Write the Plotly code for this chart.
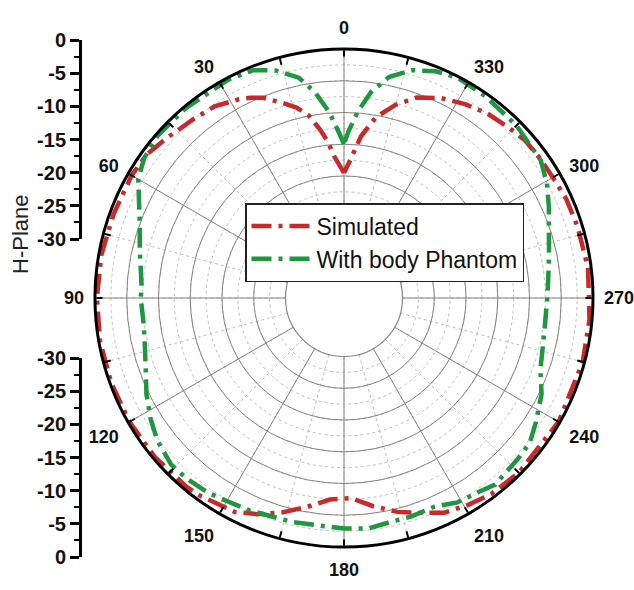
import plotly.graph_objects as go

# ---------------- data ----------------
sim_theta = [0, 4, 6, 8, 11, 14, 17, 22, 25, 28, 34, 40, 45, 48, 54, 60, 70, 80, 90, 100, 110,
             120, 130, 140, 144, 153, 158, 164, 170, 176, 182, 188, 194, 200, 205, 211, 217,
             225, 240, 255, 265, 277, 287, 294, 299, 305, 311, 316, 322, 328, 334, 340, 345,
             350, 354, 357, 360]
sim_r = [-19.5, -16.8, -14.4, -12.5, -9.9, -8.3, -7.2, -5.2, -4.4, -3.8, -2.8, -2.4, -2.0, -1.6,
         -0.8, -0.6, -0.6, -0.4, -0.3, -0.2, -0.2, -0.2, -0.3, -0.5, -0.7, -1.4, -2.5, -4.1,
         -5.8, -7.4, -7.7, -6.1, -4.5, -3.2, -1.9, -1.2, -0.6, -0.3, -0.2, -0.3, -0.4, -0.5,
         -0.75, -0.9, -1.2, -1.3, -1.4, -1.9, -2.4, -3.2, -4.2, -5.6, -7.7, -10.3, -13.6,
         -17.1, -19.5]

ph_theta = [0, 1.6, 4.5, 8, 11.6, 16.7, 21.7, 28, 40, 49, 55, 60, 65, 70, 77, 83, 87, 90, 97.5,
            104, 111, 116, 122, 127.5, 134, 139, 145, 150, 156, 167, 180, 186, 192, 197, 203.5,
            209, 215, 219, 227, 232, 237, 244, 250, 260, 270, 275.5, 282, 289, 294, 299.5, 305,
            315, 325, 332.6, 338, 343.5, 348.5, 352.5, 355.8, 358.5, 360]
ph_r = [-15, -13.3, -9.9, -6.5, -3.8, -1.8, -0.6, -0.3, -0.3, -0.3, -0.8, -1.8, -3.6, -5.0, -6.2,
        -7.0, -7.3, -7.2, -7.4, -6.9, -5.8, -4.6, -3.3, -2.2, -1.4, -1.5, -1.8, -2.3, -2.6,
        -3.0, -2.9, -2.7, -3.2, -3.2, -3.4, -2.4, -2.0, -1.4, -1.9, -2.1, -3.2, -4.6, -6.3,
        -7.2, -7.2, -6.9, -6.2, -5.1, -3.9, -2.5, -1.4, -0.8, -0.4, -0.2, -0.7, -1.8, -3.7,
        -6.5, -9.8, -13.0, -15]

series_names = ["Simulated", "With body Phantom"]

angle_ticks = [0, 30, 60, 90, 120, 150, 180, 210, 240, 270, 300, 330]
angle_labels = [str(a) for a in angle_ticks]
angle_minor = list(range(0, 360, 15))
radial_major = [-25, -20, -15, -10, -5]
radial_minor = [-30 + 2.5 * i for i in range(12)]
side_ticks = [0, -5, -10, -15, -20, -25, -30]
side_labels = [str(v) for v in side_ticks]
side_minor = [-2.5, -7.5, -12.5, -17.5, -22.5, -27.5]

RED = "#c82a2c"
GREEN = "#1f9640"
FONT = "Arial, Liberation Sans, sans-serif"

W, H = 634, 590
cx, cy, R = 344, 298, 249
dom_x = [(cx - R) / W, (cx + R) / W]
dom_y = [(H - cy - R) / H, (H - cy + R) / H]
HOLE = 0.235

fig = go.Figure()

# invisible carriers so the grid-only / frame-only polar subplots are drawn
fig.add_trace(go.Scatterpolar(theta=[0], r=[-30], mode="markers", marker=dict(opacity=0),
                              showlegend=False, hoverinfo="skip", subplot="polar"))
fig.add_trace(go.Scatterpolar(theta=sim_theta, r=sim_r, mode="lines", name=series_names[0],
                              line=dict(color=RED, width=4.5, dash="20px,7px,4px,7px"),
                              subplot="polar2"))
fig.add_trace(go.Scatterpolar(theta=ph_theta, r=ph_r, mode="lines", name=series_names[1],
                              line=dict(color=GREEN, width=4.5, dash="20px,7px,4px,7px"),
                              subplot="polar2"))
fig.add_trace(go.Scatterpolar(theta=[0], r=[-30], mode="markers", marker=dict(opacity=0),
                              showlegend=False, hoverinfo="skip", subplot="polar3"))
# carriers for side radial scales
fig.add_trace(go.Scatter(x=[None], y=[None], xaxis="x", yaxis="y", showlegend=False, hoverinfo="skip"))
fig.add_trace(go.Scatter(x=[None], y=[None], xaxis="x", yaxis="y2", showlegend=False, hoverinfo="skip"))

side_font = dict(family=FONT, size=20, weight="bold", color="#111")

fig.update_layout(
    width=W, height=H,
    margin=dict(l=0, r=0, t=0, b=0, autoexpand=False),
    paper_bgcolor="white",
    plot_bgcolor="rgba(0,0,0,0)",
    font=dict(family=FONT, color="#111"),
    polar=dict(
        domain=dict(x=dom_x, y=dom_y),
        hole=HOLE,
        bgcolor="white",
        radialaxis=dict(range=[-30, 0], tickvals=radial_minor, showticklabels=False, ticks="",
                        showline=False, gridcolor="#c4bcbc", griddash="dot", gridwidth=1),
        angularaxis=dict(rotation=90, direction="counterclockwise", tickvals=angle_minor,
                         showticklabels=False, ticks="", showline=True,
                         linecolor="#8c8484", linewidth=1.2,
                         gridcolor="#c4bcbc", griddash="dot", gridwidth=1),
    ),
    polar2=dict(
        domain=dict(x=dom_x, y=dom_y),
        hole=HOLE,
        bgcolor="rgba(0,0,0,0)",
        radialaxis=dict(range=[-30, 0], tickvals=radial_major, showticklabels=False, ticks="",
                        showline=False, gridcolor="#8c8484", gridwidth=1.2),
        angularaxis=dict(rotation=90, direction="counterclockwise", tickvals=angle_ticks,
                         ticktext=angle_labels, ticks="outside", ticklen=7,
                         tickcolor="rgba(0,0,0,0)", showline=False,
                         tickfont=dict(family=FONT, size=18, weight="bold", color="#111"),
                         gridcolor="#8c8484", gridwidth=1.2),
    ),
    polar3=dict(
        domain=dict(x=dom_x, y=dom_y),
        hole=0,
        bgcolor="rgba(0,0,0,0)",
        radialaxis=dict(range=[-30, 0], visible=False),
        angularaxis=dict(rotation=90, direction="counterclockwise", tickvals=angle_minor,
                         showticklabels=False, ticks="inside", ticklen=6, tickwidth=2,
                         tickcolor="black", showline=True, linecolor="black", linewidth=3,
                         showgrid=False),
    ),
    xaxis=dict(domain=[82 / W, 90 / W], visible=False, range=[0, 1], automargin=False),
    yaxis=dict(domain=[(H - 239) / H, (H - 40) / H], range=[-30, 0], anchor="x",
               tickvals=side_ticks, ticktext=side_labels, ticks="outside", ticklen=9,
               tickwidth=2.5, tickcolor="black", showline=True, linecolor="black", linewidth=3,
               showgrid=False, zeroline=False, tickfont=side_font, automargin=False,
               minor=dict(tickvals=side_minor, ticks="outside", ticklen=5, tickwidth=2,
                          tickcolor="black", showgrid=False)),
    yaxis2=dict(domain=[(H - 557) / H, (H - 358) / H], range=[0, -30], anchor="x",
                tickvals=side_ticks, ticktext=side_labels, ticks="outside", ticklen=9,
                tickwidth=2.5, tickcolor="black", showline=True, linecolor="black", linewidth=3,
                showgrid=False, zeroline=False, tickfont=side_font, automargin=False,
                minor=dict(tickvals=side_minor, ticks="outside", ticklen=5, tickwidth=2,
                           tickcolor="black", showgrid=False)),
    legend=dict(x=245 / W, y=(H - 203) / H, xanchor="left", yanchor="top",
                bgcolor="white", bordercolor="#222", borderwidth=1.5,
                font=dict(family=FONT, size=23, color="#111"),
                itemwidth=60, tracegroupgap=0),
    annotations=[dict(text="H-Plane", x=20 / W, y=(H - 235) / H, xref="paper", yref="paper",
                      xanchor="center", yanchor="middle",
                      textangle=-90, showarrow=False,
                      font=dict(family=FONT, size=22, color="#222"))],
)

fig.write_html("out.html")
